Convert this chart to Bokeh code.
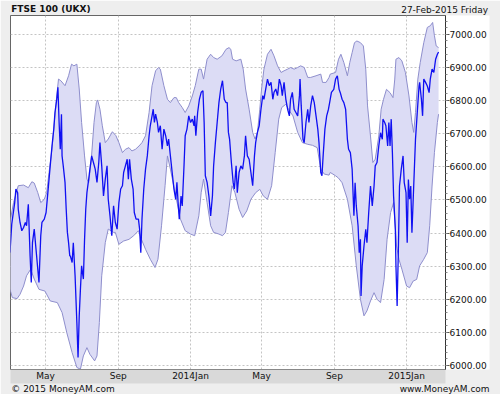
import numpy as np
import pandas as pd
from bokeh.plotting import figure
from bokeh.models import Range1d, FixedTicker, NumeralTickFormatter, LinearAxis
from bokeh.embed import file_html
from bokeh.resources import INLINE

# ---- data (day offset from base_date, value) ----
base_date = "2013-05-01"

price = [(-60,6341),(-57,6427),(-52,6492),(-50,6533),(-47,6522),(-46,6472),(-43,6432),(-40,6407),(-37,6417),(-34,6432),
         (-32,6422),(-29,6487),(-26,6331),(-24,6251),(-22,6371),(-19,6412),(-16,6351),(-13,6291),(-11,6251),(-8,6392),
         (-6,6432),(-2,6442),(1,6462),(4,6522),(8,6603),(11,6663),(14,6714),(16,6764),(19,6804),(21,6840),
         (23,6734),(25,6653),(27,6759),(28,6633),(30,6603),(33,6553),(35,6472),(37,6402),(39,6371),(41,6331),
         (42,6331),(45,6311),(47,6371),(50,6271),(53,6130),(55,6024),(57,6150),(59,6230),(61,6301),(64,6261),
         (66,6381),(68,6472),(70,6522),(73,6563),(75,6593),(78,6633),(81,6613),(84,6593),(87,6553),(90,6613),
         (92,6673),(95,6603),(98,6512),(101,6563),(104,6603),(106,6502),(109,6452),(112,6392),(115,6482),(118,6432),
         (121,6412),(124,6492),(127,6533),(130,6543),(132,6583),(135,6603),(138,6623),(140,6563),(142,6623),(145,6563),
         (148,6533),(150,6462),(153,6442),(157,6442),(159,6412),(161,6341),(163,6442),(166,6533),(169,6593),(172,6633),
         (175,6694),(177,6724),(180,6754),(182,6774),(184,6734),(186,6759),(189,6734),(191,6704),(194,6724),(197,6653),
         (200,6714),(203,6694),(206,6663),(208,6684),(211,6633),(214,6583),(217,6533),(220,6502),(222,6553),(224,6492),
         (226,6442),(229,6512),(231,6482),(234,6603),(236,6694),(239,6714),(242,6754),(245,6734),(248,6744),(251,6724),
         (252,6754),(254,6694),(257,6764),(260,6804),(263,6825),(266,6830),(268,6734),(270,6573),(273,6553),(276,6512),
         (279,6452),(282,6512),(284,6603),(287,6673),(290,6734),(293,6794),(296,6835),(299,6860),(302,6804),(305,6794),
         (307,6794),(309,6704),(311,6683),(314,6613),(317,6553),(319,6533),(322,6603),(324,6522),(327,6583),(330,6603),
         (333,6593),(336,6633),(338,6694),(341,6633),(344,6623),(347,6583),(350,6543),(353,6633),(355,6673),(358,6704),
         (361,6724),(364,6774),(367,6815),(369,6804),(372,6835),(375,6865),(378,6845),(381,6855),(384,6804),(386,6825),
         (389,6835),(392,6815),(395,6865),(398,6845),(400,6815),(403,6855),(406,6804),(409,6774),(412,6754),(414,6804),
         (417,6825),(420,6774),(423,6764),(426,6754),(429,6815),(430,6865),(432,6784),(435,6683),(437,6673),(440,6734),
         (443,6774),(445,6734),(448,6784),(451,6815),(454,6794),(457,6754),(460,6714),(462,6673),(465,6583),(467,6573),
         (469,6633),(472,6714),(475,6754),(478,6774),(480,6794),(483,6825),(487,6834),(490,6865),(493,6875),(496,6834),
         (498,6824),(501,6804),(504,6794),(507,6774),(510,6683),(512,6653),(515,6643),(518,6593),(521,6452),(523,6552),
         (525,6482),(528,6422),(530,6341),(532,6381),(533,6210),(535,6301),(538,6361),(541,6411),(543,6371),(546,6462),
         (549,6542),(552,6482),(555,6542),(557,6603),(560,6613),(563,6663),(566,6703),(569,6683),(570,6744),(573,6734),
         (575,6724),(578,6663),(580,6734),(582,6663),(584,6744),(586,6643),(588,6512),(591,6411),(592,6301),(594,6180),
         (596,6341),(598,6542),(601,6593),(604,6633),(606,6552),(609,6522),(611,6371),(613,6562),(615,6502),(617,6542),
         (619,6401),(622,6542),(625,6683),(628,6764),(631,6844),(632,6855),(635,6804),(637,6754),(639,6865),(642,6855),
         (645,6844),(648,6824),(650,6865),(653,6895),(656,6885),(659,6925),(662,6940),(664,6947)]

upper_band = [(-60,6432),(-54,6492),(-46,6543),(-37,6545),(-29,6537),(-23,6555),(-19,6551),(-13,6522),(-8,6492),(-2,6502),
              (2,6522),(6,6583),(11,6653),(15,6734),(19,6814),(22,6865),(26,6860),(33,6845),(39,6875),(44,6910),
              (48,6905),(53,6910),(57,6835),(61,6734),(66,6633),(70,6563),(73,6553),(77,6613),(82,6734),(86,6794),
              (88,6802),(92,6774),(96,6724),(101,6673),(106,6684),(113,6706),(119,6694),(124,6673),(130,6643),(135,6653),
              (141,6658),(146,6648),(152,6653),(158,6663),(163,6673),(169,6694),(175,6764),(180,6845),(186,6890),(191,6900),
              (194,6895),(200,6845),(206,6804),(211,6794),(217,6809),(221,6809),(225,6794),(231,6779),(236,6764),(242,6784),
              (248,6814),(253,6845),(259,6895),(263,6895),(267,6865),(273,6925),(279,6940),(284,6930),(290,6925),(298,6935),
              (305,6955),(310,6960),(313,6955),(316,6925),(322,6920),(330,6925),(334,6895),(338,6835),(344,6774),(350,6704),
              (354,6684),(358,6704),(362,6774),(365,6835),(369,6895),(375,6940),(381,6955),(386,6935),(392,6905),(398,6885),
              (403,6890),(409,6895),(414,6900),(420,6895),(426,6900),(431,6905),(437,6900),(443,6870),(448,6870),(457,6875),
              (465,6880),(468,6855),(474,6855),(479,6870),(481,6880),(490,6885),(495,6925),(499,6940),(504,6915),(510,6875),
              (514,6915),(518,6945),(522,6975),(526,6980),(532,6975),(537,6965),(541,6895),(544,6784),(549,6693),(553,6613),
              (557,6623),(563,6693),(567,6774),(571,6804),(576,6834),(582,6824),(587,6809),(590,6865),(592,6925),(597,6930),
              (602,6920),(608,6885),(614,6814),(619,6734),(622,6704),(625,6764),(629,6865),(633,6915),(639,6975),(645,7021),
              (650,7026),(654,7036),(657,6996),(660,6965),(664,6960)]

lower_band = [(-60,6230),(-56,6205),(-48,6202),(-43,6215),(-37,6240),(-32,6271),(-25,6291),(-19,6261),(-11,6230),(-1,6225),
              (8,6195),(20,6190),(28,6160),(36,6099),(45,6039),(53,5994),(59,5989),(64,6029),(70,6054),(75,6034),
              (83,6014),(87,6029),(91,6130),(95,6271),(101,6371),(106,6412),(115,6402),(118,6402),(124,6366),(132,6376),
              (141,6381),(149,6392),(157,6407),(162,6381),(169,6351),(177,6321),(185,6296),(190,6321),(196,6422),(202,6543),
              (206,6633),(211,6593),(220,6512),(228,6442),(236,6407),(245,6397),(252,6392),(259,6452),(263,6522),(267,6563),
              (273,6492),(279,6422),(284,6402),(293,6397),(299,6392),(304,6402),(309,6462),(315,6543),(320,6522),(327,6472),
              (333,6447),(340,6467),(347,6502),(355,6522),(362,6532),(368,6512),(375,6502),(382,6543),(388,6643),(394,6744),
              (399,6779),(406,6789),(412,6769),(418,6754),(426,6704),(434,6673),(443,6668),(451,6665),(459,6658),(465,6593),
              (471,6578),(479,6575),(481,6583),(490,6573),(495,6566),(501,6552),(510,6502),(518,6422),(525,6301),(532,6200),
              (538,6150),(543,6165),(549,6195),(555,6220),(560,6200),(566,6190),(572,6260),(577,6381),(583,6462),(588,6492),
              (593,6361),(597,6321),(602,6291),(610,6240),(615,6235),(621,6255),(627,6260),(632,6301),(639,6321),(645,6341),
              (649,6422),(653,6542),(657,6643),(662,6734),(664,6759)]

month_ticks = ["2013-05-01", "2013-09-01", "2014-01-01", "2014-05-01", "2014-09-01", "2015-01-01"]
month_labels = ["May", "Sep", "2014Jan", "May", "Sep", "2015Jan"]
y_ticks = list(range(6000, 7001, 100))
title_text = "FTSE 100 (UKX)"
date_text = "27-Feb-2015 Friday"
copy_text = "\u00a9 2015 MoneyAM.com"
site_text = "www.MoneyAM.com"

# ---- helpers ----
base = pd.Timestamp(base_date)
def to_x(pts):
    return [base + pd.Timedelta(days=d) for d, _ in pts]
def to_y(pts):
    return [v for _, v in pts]

FONT = "DejaVu Sans"
TXT = "#111111"

p = figure(frame_width=435, frame_height=354, x_axis_type="datetime", y_axis_location="right",
           x_range=Range1d(base - pd.Timedelta(days=59.1), base + pd.Timedelta(days=675.7)),
           y_range=Range1d(5988, 7057),
           output_backend="svg", toolbar_location=None,
           min_border_left=10, min_border_right=55, min_border_top=13, min_border_bottom=27,
           background_fill_color="white", border_fill_color="#eeeeee")
p.outline_line_color = "#666666"

# band + price
ux, uy = to_x(upper_band), to_y(upper_band)
lx, ly = to_x(lower_band), to_y(lower_band)
p.patch(ux + lx[::-1], uy + ly[::-1], fill_color="#dcdcf5", fill_alpha=1.0, line_color=None)
p.line(ux, uy, line_color="#8e8ecc", line_width=1)
p.line(lx, ly, line_color="#8e8ecc", line_width=1)
p.line(to_x(price), to_y(price), line_color="#1010f2", line_width=1.3)

# main axes
tick_ms = [int(pd.Timestamp(t).value // 10**6) for t in month_ticks]
xa = p.xaxis[0]
xa.ticker = FixedTicker(ticks=tick_ms, minor_ticks=[])
xa.major_label_overrides = {t: l for t, l in zip(tick_ms, month_labels)}
xa.major_label_text_font = FONT
xa.major_label_text_font_size = "9px"
xa.major_label_text_color = TXT
xa.major_tick_in = 0
xa.major_tick_out = 0
xa.minor_tick_in = 0
xa.minor_tick_out = 0
xa.major_label_standoff = 1
xa.axis_line_color = "#888888"
xa.background_fill_color = "#d9d9d9"

ya = p.yaxis[0]
ya.ticker = FixedTicker(ticks=y_ticks, minor_ticks=list(range(6000, 7041, 20)))
ya.formatter = NumeralTickFormatter(format="0.00")
ya.major_label_text_font = FONT
ya.major_label_text_font_size = "9px"
ya.major_label_text_color = TXT
ya.major_tick_in = 0
ya.major_tick_out = 4
ya.minor_tick_in = 0
ya.minor_tick_out = 2
ya.major_label_standoff = 0
ya.axis_line_color = "#333333"
ya.major_tick_line_color = "#555555"
ya.minor_tick_line_color = "#888888"
ya.background_fill_color = "white"

p.xgrid.ticker = FixedTicker(ticks=tick_ms, minor_ticks=[])
p.ygrid.ticker = FixedTicker(ticks=y_ticks, minor_ticks=[])
for g in (p.xgrid, p.ygrid):
    g.grid_line_color = "#c4c4c4"
    g.grid_line_dash = "2 2"
    g.grid_line_width = 1

# header / footer texts carried by label-only axes (fractions of frame width)
p.extra_x_ranges = {"txt": Range1d(0, 1.002)}

def text_axis(pos, labels, style, standoff, side):
    ax = LinearAxis(x_range_name="txt", ticker=FixedTicker(ticks=pos, minor_ticks=[]))
    ax.major_label_overrides = {t: l for t, l in zip(pos, labels)}
    ax.axis_line_color = None
    ax.major_tick_line_color = None
    ax.minor_tick_line_color = None
    ax.major_tick_in = 0
    ax.major_tick_out = 0
    ax.minor_tick_in = 0
    ax.minor_tick_out = 0
    ax.major_label_standoff = standoff
    ax.major_label_text_font = FONT
    ax.major_label_text_font_size = "9px"
    ax.major_label_text_font_style = style
    ax.major_label_text_color = TXT
    p.add_layout(ax, side)
    return ax

text_axis([1.0], [date_text], "normal", 1, "above")
text_axis([0.093], [title_text], "bold", -12, "above")
text_axis([0.121, 1.0], [copy_text, site_text], "normal", 0, "below")

open("out.html", "w").write(file_html(p, INLINE))
